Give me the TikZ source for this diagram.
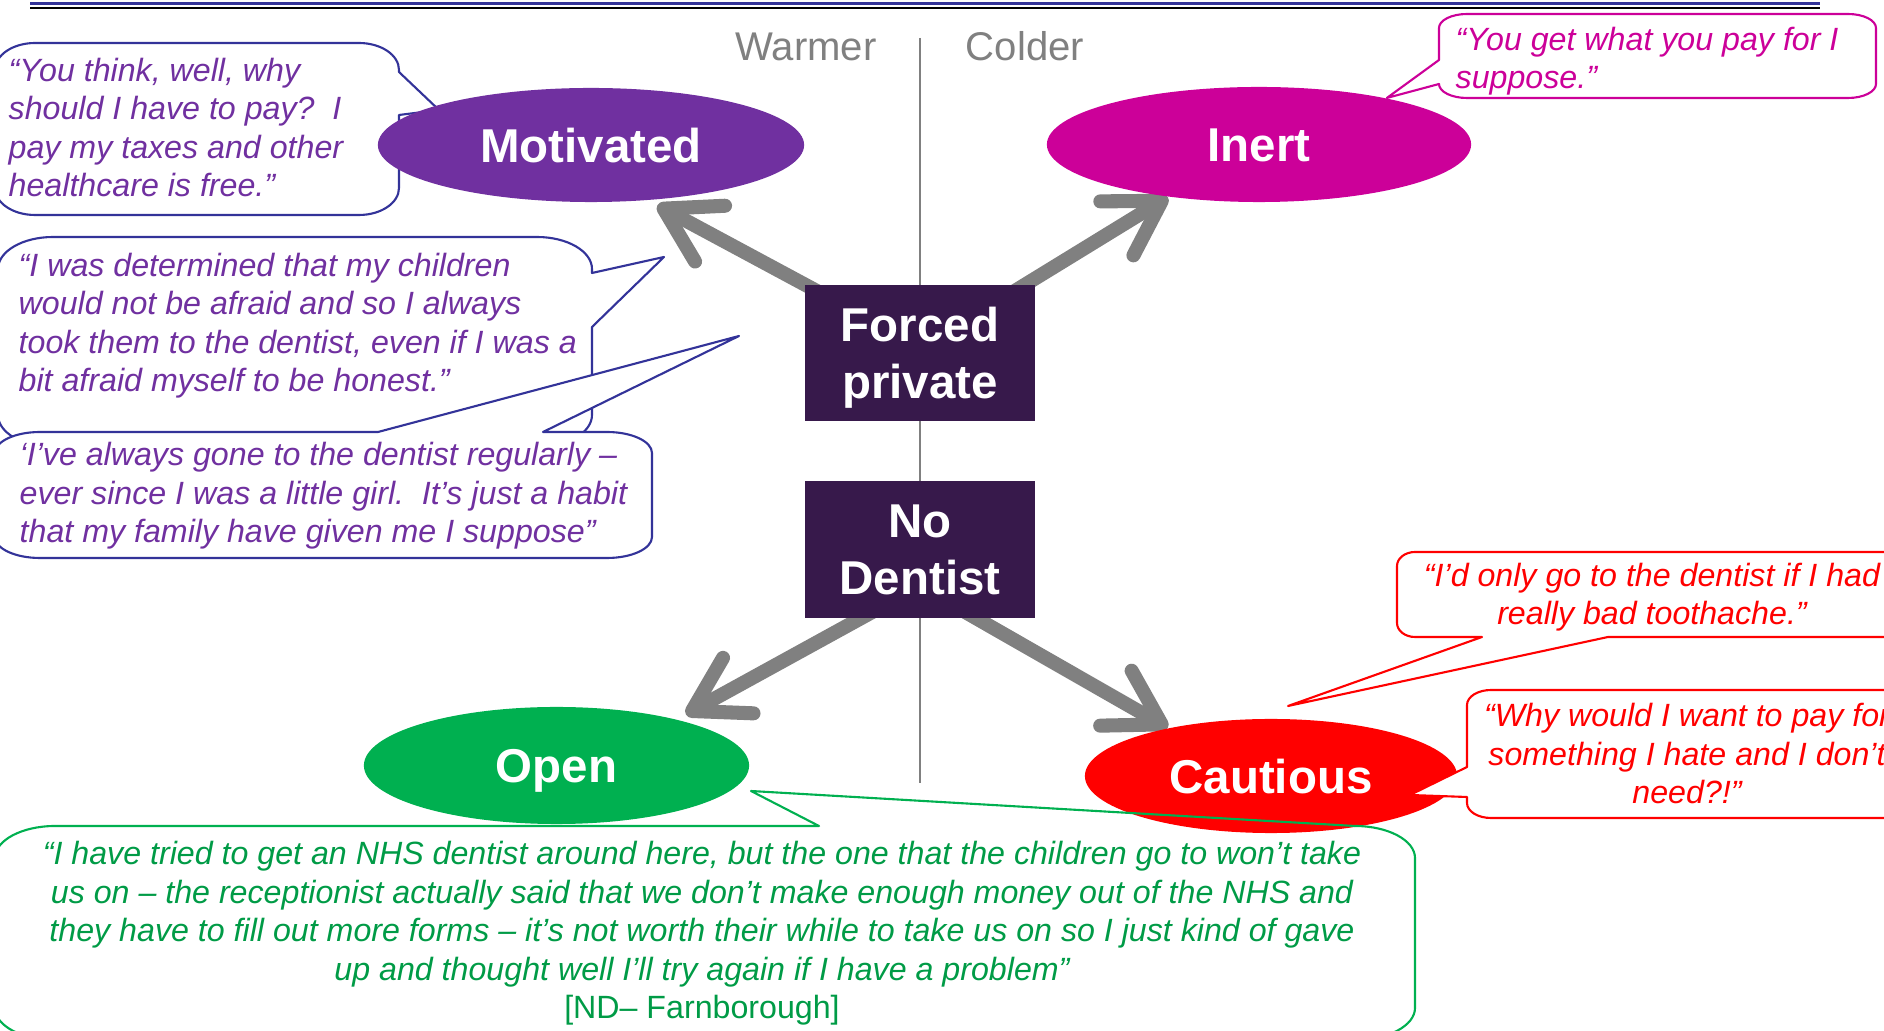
\documentclass[tikz,border=0pt]{standalone}
\usepackage{fontspec}
\setmainfont{Liberation Sans}
\usetikzlibrary{arrows.meta,shapes.geometric}
\pgfdeclarelayer{background}
\pgfsetlayers{background,main}
\definecolor{navy}{RGB}{51,51,153}
\definecolor{quotepurple}{RGB}{112,48,160}
\definecolor{inertpink}{RGB}{204,0,153}
\definecolor{opengreen}{RGB}{0,176,80}
\definecolor{quotegreen}{RGB}{0,155,70}
\definecolor{boxpurple}{RGB}{55,25,75}
\definecolor{arrowgrey}{RGB}{128,128,128}
% rounded callout: [style](left,top,right,bottom){top}{right}{bottom}{left}
\def\bubble[#1](#2,#3,#4,#5)#6#7#8#9{%
  \draw[#1] (#2+\brx,#3) #6 -- (#4-\brx,#3)
    arc[start angle=270,end angle=360,x radius=\brx,y radius=\bry] #7 -- (#4,#5-\bry)
    arc[start angle=0,end angle=90,x radius=\brx,y radius=\bry] #8 -- (#2+\brx,#5)
    arc[start angle=90,end angle=180,x radius=\brx,y radius=\bry] #9 -- (#2,#3+\bry)
    arc[start angle=180,end angle=270,x radius=\brx,y radius=\bry] -- cycle;}
\begin{document}
\begin{tikzpicture}[x=0.01cm, y=-0.01cm, line join=round,
    quote/.style={inner sep=0pt, font=\fontsize{9.15}{10.95}\selectfont\itshape},
    tagtext/.style={inner sep=0pt, text=white, font=\fontsize{13.5}{16.2}\selectfont\bfseries},
    oval/.style={tagtext, ellipse, text height=9.7pt, text depth=0pt},
    groupbox/.style={tagtext, rectangle, fill=boxpurple, align=center, minimum width=2.3cm, text depth=0pt},
    sidelabel/.style={inner sep=0pt, text=arrowgrey, font=\fontsize{11.4}{13}\selectfont},
    bigarrow/.style={arrowgrey, line width=4pt, shorten <=-1cm, -{Straight Barb[length=15pt,width=18pt,round]}},
    purplebub/.style={draw=navy, line width=0.6pt, fill=white},
    pinkbub/.style={draw=inertpink, line width=0.6pt, fill=white},
    redbub/.style={draw=red, line width=0.6pt, fill=white},
    greenbub/.style={draw=opengreen, line width=0.6pt}]
  \useasboundingbox (0,0) rectangle (1884,1031);
  % header rules
  \draw[navy, line width=0.6pt] (30,3.5) -- (1820,3.5);
  \draw[black, line width=0.75pt] (30,8) -- (1820,8);
  % warm / cold divide
  \node[sidelabel, anchor=base] (warm) at (806,61) {Warmer};
  \node[sidelabel, anchor=base] (cold) at (1025,61) {Colder};
  \draw[arrowgrey, line width=0.6pt] (920,38) -- (920,783);
  % left hand quotes (base = last line)
  \def\brx{40}\def\bry{27}
  \coordinate (atip) at (439,110);
  \bubble[purplebub](-5,43,399,215){}{-- (399,72) -- (atip) -- (399,115)}{}{}
  \node[quote, text=quotepurple, anchor=base west, align=left] (qa) at (8,197)
    {“You think, well, why\\should I have to pay?\ \ I\\pay my taxes and other\\healthcare is free.”};
  \def\brx{55}\def\bry{32}
  \coordinate (btip) at (664,257);
  \bubble[purplebub](-2,237,592,447){}{-- (592,273) -- (btip) -- (592,327)}{}{}
  \node[quote, text=quotepurple, anchor=base west, align=left] (qb) at (18,392)
    {“I was determined that my children\\would not be afraid and so I always\\took them to the dentist, even if I was a\\bit afraid myself to be honest.”};
  \def\brx{45}\def\bry{21}
  \coordinate (ctip) at (739,336);
  \bubble[purplebub](-5,432,652,558){-- (378,432) -- (ctip) -- (543,432)}{}{}{}
  \node[quote, text=quotepurple, anchor=base west, align=left] (qc) at (19,543)
    {‘I’ve always gone to the dentist regularly –\\ever since I was a little girl.\ \ It’s just a habit\\that my family have given me I suppose”};
  % segments
  \node[oval, fill=quotepurple, minimum width=4.26cm, minimum height=1.14cm] (mot) at (591,145) {Motivated};
  \node[oval, fill=inertpink, minimum width=4.24cm, minimum height=1.15cm] (inert) at (1259,144.5) {Inert};
  \node[oval, fill=opengreen, minimum width=3.85cm, minimum height=1.17cm] (open) at (556.5,765.5) {Open};
  \node[oval, fill=red, minimum width=3.72cm, minimum height=1.14cm] (caut) at (1271,776) {Cautious};
  \node[groupbox, minimum height=1.36cm] (fp) at (920,353) {Forced\\private};
  \node[groupbox, minimum height=1.37cm] (nd) at (920,549.5) {No\\Dentist};
  \begin{pgfonlayer}{background}
    \draw[bigarrow, shorten >=0.1cm] (fp.north west) -- (mot.-44);
    \draw[bigarrow] ([xshift=-0.1cm]fp.north east) -- (inert.210);
    \draw[bigarrow, shorten >=0.1cm] ([xshift=-0.6cm]nd.south) -- (open.21);
    \draw[bigarrow] ([xshift=0.57cm]nd.south) -- (caut.155);
  \end{pgfonlayer}
  % right hand quotes
  \def\brx{28}\def\bry{14}
  \bubble[pinkbub](1439,14,1876,98){}{}{}{-- (1439,84) -- (inert.20) -- (1439,60)}
  \node[quote, text=inertpink, anchor=base west, align=left] (qd) at (1455,89)
    {“You get what you pay for I\\suppose.”};
  \def\brx{18}\def\bry{14}
  \coordinate (etip) at (1288,706);
  \bubble[redbub](1397,552,1908,637){}{}{-- (1608,637) -- (etip) -- (1482,637)}{}
  \node[quote, text=red, anchor=base, align=center] (qe) at (1652,625)
    {“I’d only go to the dentist if I had\\really bad toothache.”};
  \def\brx{24}\def\bry{15}
  \coordinate (ftip) at (1410,795);
  \bubble[redbub](1467,690,1908,818){}{}{}{-- (1467,797) -- (ftip) -- (1467,767)}
  \node[quote, text=red, anchor=base, align=center] (qf) at (1687,804)
    {“Why would I want to pay for\\something I hate and I don’t\\need?!”};
  % bottom quote
  \def\brx{60}\def\bry{32}
  \coordinate (gtip) at (751,791);
  \bubble[greenbub](-5,826,1415,1040){-- (819,826) -- (gtip) -- (1355,826)}{}{}{}
  \node[quote, text=quotegreen, anchor=base, align=center] (qg) at (702,1019)
    {“I have tried to get an NHS dentist around here, but the one that the children go to won’t take\\us on – the receptionist actually said that we don’t make enough money out of the NHS and\\they have to fill out more forms – it’s not worth their while to take us on so I just kind of gave\\up and thought well I’ll try again if I have a problem”\\{\upshape [ND– Farnborough]}};
\end{tikzpicture}
\end{document}
